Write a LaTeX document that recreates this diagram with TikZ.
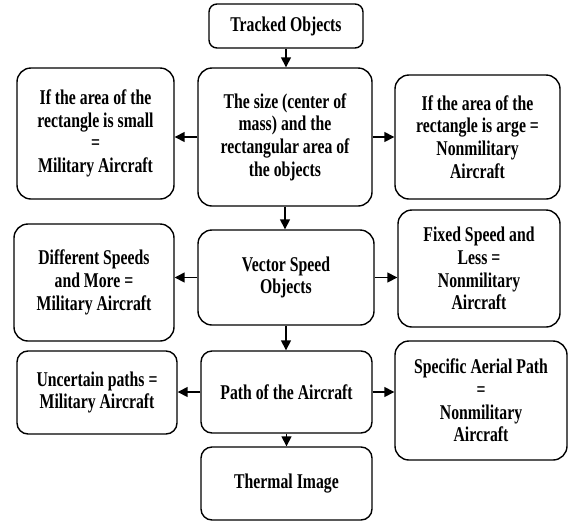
\documentclass[tikz,border=0pt]{standalone}
\usepackage{fontspec}
\setmainfont{Liberation Serif}[FakeStretch=0.75,BoldFeatures={FakeStretch=0.75}]
\usetikzlibrary{arrows.meta}
\begin{document}
\begin{tikzpicture}[x=1pt,y=-1pt,
  box/.style={draw=black,line width=1.4pt,rounded corners=14pt,align=center,
    inner sep=0pt,font=\fontsize{21}{22.7}\selectfont\bfseries},
  arr/.style={line width=1.5pt,-{Triangle[length=10pt,width=10pt]}}]
\useasboundingbox (0,0) rectangle (568,523);
\node[box,rounded corners=8pt,minimum width=154pt,minimum height=44pt] (track) at (286,26) {Tracked Objects};
\node[box,minimum width=174pt,minimum height=138pt] (c1) at (285,137) {The size (center of\\mass) and the\\rectangular area of\\the objects};
\node[box,minimum width=157pt,minimum height=131pt] (l1) at (95.5,133.5) {If the area of the\\rectangle is small\\=\\Military Aircraft};
\node[box,minimum width=165pt,minimum height=124pt] (r1) at (477.5,137) {If the area of the\\rectangle is arge =\\Nonmilitary\\Aircraft};
\node[box,minimum width=176pt,minimum height=95pt] (c2) at (286,277.5) {Vector Speed\\Objects};
\node[box,minimum width=160pt,minimum height=117pt] (l2) at (94,282.5) {Different Speeds\\and More =\\Military Aircraft};
\node[box,minimum width=162pt,minimum height=117pt] (r2) at (479,268.5) {Fixed Speed and\\Less =\\Nonmilitary\\Aircraft};
\node[box,rounded corners=11pt,minimum width=171pt,minimum height=82pt] (c3) at (286.5,392) {Path of the Aircraft};
\node[box,rounded corners=11pt,minimum width=160pt,minimum height=83pt] (l3) at (97,392.5) {Uncertain paths =\\Military Aircraft};
\node[box,minimum width=172pt,minimum height=119pt] (r3) at (481,400.5) {Specific Aerial Path\\=\\Nonmilitary\\Aircraft};
\node[box,rounded corners=11pt,minimum width=171pt,minimum height=73pt] (th) at (286.5,483.5) {Thermal Image};
\draw[arr] (track.south) -- (track.south |- c1.north);
\draw[arr] (c1.south) -- (c1.south |- c2.north);
\draw[arr] (c2.south) -- (c2.south |- c3.north);
\draw[arr] (c3.south) -- (c3.south |- th.north);
\draw[arr] (c1.west) -- (c1.west -| l1.east);
\draw[arr] (c1.east) -- (c1.east -| r1.west);
\draw[arr] (c2.west) -- (c2.west -| l2.east);
\draw[arr] (c2.east) -- (c2.east -| r2.west);
\draw[arr] (c3.west) -- (c3.west -| l3.east);
\draw[arr] (c3.east) -- (c3.east -| r3.west);
\end{tikzpicture}
\end{document}
